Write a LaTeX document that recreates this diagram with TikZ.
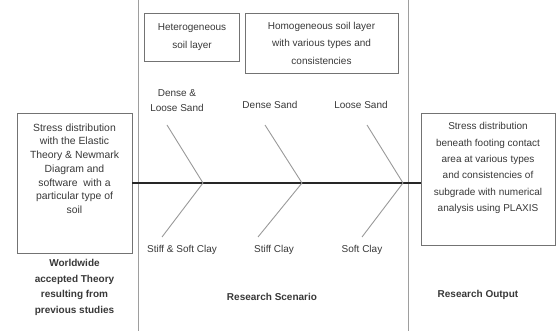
\documentclass[tikz,border=0pt]{standalone}
\usepackage{fontspec}
\setmainfont{Liberation Sans}
\usepackage{xcolor}
\usetikzlibrary{positioning}
\definecolor{rulegrey}{gray}{0.62}
\definecolor{boxgrey}{gray}{0.45}
\definecolor{inkgrey}{gray}{0.22}
\tikzstyle{textbox} = [rectangle, draw=boxgrey, line width=0.9pt]
\tikzstyle{boxtext} = [align=center, text=inkgrey, inner sep=0pt, font=\fontsize{10.4}{13.7}\selectfont]
\tikzstyle{layertext} = [align=center, text=inkgrey, font=\fontsize{10}{17.5}\selectfont]
\tikzstyle{soiltext} = [align=center, text=inkgrey, inner sep=0pt, font=\fontsize{10}{15}\selectfont]
\tikzstyle{caption} = [align=center, text=inkgrey, inner sep=0pt, font=\fontsize{10}{15.5}\selectfont\bfseries]
\tikzstyle{colrule} = [draw=rulegrey, line width=1pt]
\tikzstyle{spine} = [draw=black!85, line width=2.8pt]
\tikzstyle{rib} = [draw=gray!80, line width=0.9pt]

\begin{document}
\begin{tikzpicture}[x=1pt, y=-1pt]
\useasboundingbox (0,0) rectangle (557,331);

% column rules
\coordinate (rulea top) at (138,0);
\coordinate (rulea bot) at (138,331);
\coordinate (ruleb top) at (408,0);
\coordinate (ruleb bot) at (408,331);
\draw[colrule] (rulea top) -- (rulea bot);
\draw[colrule] (ruleb top) -- (ruleb bot);

% theory and output boxes
\node[textbox, minimum width=115pt, minimum height=140pt] (theory) at (74.5,183) {};
\node[boxtext, below=11pt of theory.north] (theorytext) {Stress distribution\\with the Elastic\\Theory \& Newmark\\Diagram and\\software\ \ with a\\particular type of\\soil};
\node[textbox, minimum width=134pt, minimum height=132pt] (output) at (488,179) {};
\node[soiltext, below=10pt of output.north, font=\fontsize{10}{16.3}\selectfont] (outputtext) {Stress distribution\\beneath footing contact\\area at various types\\and consistencies of\\subgrade with numerical\\analysis using PLAXIS};

% soil layer boxes
\node[textbox, layertext, minimum width=95pt, minimum height=48pt] (hetero) at (192,37) {Heterogeneous\\soil layer};
\node[textbox, layertext, minimum width=153pt, minimum height=60pt] (homo) at (321.5,43) {Homogeneous soil layer\\with various types and\\consistencies};

% fishbone
\coordinate (j1) at (203,183);
\coordinate (j2) at (302,183);
\coordinate (j3) at (403,183);
\coordinate (u1) at (167,125);
\coordinate (u2) at (265,125);
\coordinate (u3) at (367,125);
\coordinate (l1) at (162,237);
\coordinate (l2) at (258,237);
\coordinate (l3) at (362,237);
\draw[spine] (theory.east |- j1) -- (output.west |- j1);
\foreach \i in {1,2,3}{
  \draw[rib] (u\i) -- (j\i);
  \draw[rib] (j\i) -- (l\i);
}

% soil labels
\node[soiltext] (sand1) at (177,101) {Dense \&\\Loose Sand};
\node[soiltext] (sand2) at (270,105) {Dense Sand};
\node[soiltext] (sand3) at (361,105) {Loose Sand};
\node[soiltext] (clay1) at (182,250) {Stiff \& Soft Clay};
\node[soiltext] (clay2) at (274,250) {Stiff Clay};
\node[soiltext] (clay3) at (362,250) {Soft Clay};

% column captions
\node[caption, below=6pt of theory] (theorycap) {Worldwide\\accepted Theory\\resulting from\\previous studies};
\node[caption] (scenariocap) at (272,297) {Research Scenario};
\node[caption] (outputcap) at (478,295) {Research Output};

\end{tikzpicture}
\end{document}
